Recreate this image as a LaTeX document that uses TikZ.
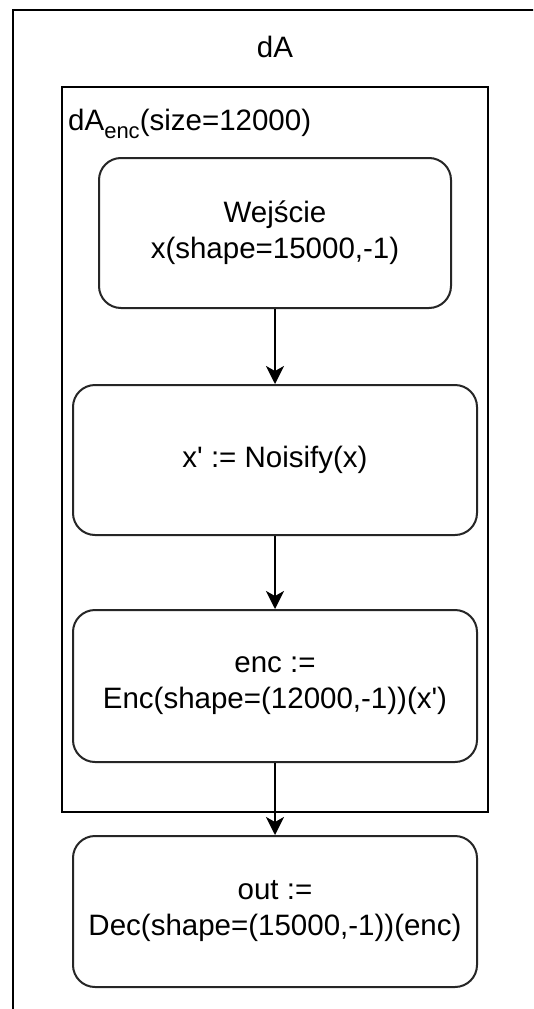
\documentclass[tikz,border=0pt]{standalone}
\usepackage{fontspec}
\setmainfont{Liberation Sans}[Ligatures=TeXOff]
\usetikzlibrary{arrows.meta}
\tikzset{
  frame/.style={draw=black, line width=2.2pt, rectangle, inner sep=0pt},
  box/.style={draw=black!85, line width=2pt, rectangle, rounded corners=22pt, align=center,
    minimum height=150pt, inner sep=0pt, font=\fontsize{29.5}{36}\selectfont},
  txt/.style={inner sep=0pt, font=\fontsize{29.5}{36}\selectfont},
  arr/.style={draw=black, line width=2.2pt, -{Stealth[length=18pt, width=18pt, inset=5pt]}}
}
\begin{document}
\begin{tikzpicture}[x=1pt, y=-1pt]
\useasboundingbox (0,0) rectangle (533,1009);
\clip (0,0) rectangle (533,1009);
\fill[white] (0,0) rectangle (533,1009);
\node[frame, minimum width=560pt, minimum height=1040pt, anchor=north west] (outer) at (12,8.5) {};
\node[txt, anchor=base] (title) at (275,57) {dA};
\node[frame, minimum width=426pt, minimum height=725pt] (inner) at (275,449.5) {};
\node[txt, anchor=base west] (lbl) at (68,130) {dA\raisebox{-8pt}{\fontsize{22}{26}\selectfont enc}(size=12000)};
\node[box, minimum width=352pt] (in) at (275,233) {Wejście\\x(shape=15000,-1)};
\node[box, minimum width=404pt] (noise) at (275,460) {x' := Noisify(x)};
\node[box, minimum width=404pt, minimum height=152pt] (enc) at (275,686) {enc :=\\Enc(shape=(12000,-1))(x')};
\node[box, minimum width=404pt, minimum height=151pt] (dec) at (275,911.5) {out :=\\Dec(shape=(15000,-1))(enc)};
\draw[arr] (in.south) -- (noise.north);
\draw[arr] (noise.south) -- (enc.north);
\draw[arr] (enc.south) -- (dec.north);
\end{tikzpicture}
\end{document}
